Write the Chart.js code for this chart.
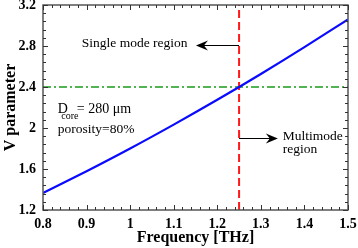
<!DOCTYPE html>
<html>
<head>
<meta charset="utf-8">
<script src="https://cdn.jsdelivr.net/npm/chart.js@4/dist/chart.umd.min.js"></script>
<style>
  html, body { margin: 0; padding: 0; background: #fff; }
  #wrap { width: 358px; height: 248px; }
</style>
</head>
<body>
<div id="wrap"><canvas id="chart" width="358" height="248"></canvas></div>
<script>
"use strict";

// values
var frequency = [0.8, 0.9, 1.0, 1.1, 1.2, 1.3, 1.4, 1.5];
var vParameter = [1.365, 1.578, 1.80, 2.033, 2.275, 2.527, 2.789, 3.06];
var cutoffV = 2.4;
var cutoffFreq = 1.25;
var xTicks = [0.8, 0.9, 1.0, 1.1, 1.2, 1.3, 1.4, 1.5];
var yTicks = [1.2, 1.6, 2.0, 2.4, 2.8, 3.2];

var SERIF = '"Liberation Serif", "Times New Roman", serif';

function fmt(v) {
  return String(Math.round(v * 100) / 100);
}

// inward minor/major ticks on all four sides plus the box
var frameTicks = {
  id: "frameTicks",
  afterDraw: function(chart) {
    var ctx = chart.ctx;
    var a = chart.chartArea;
    var xs = chart.scales.x;
    var ys = chart.scales.y;
    var i, p, len;
    ctx.save();
    ctx.strokeStyle = "#555";
    ctx.lineWidth = 1.5;
    ctx.strokeRect(a.left, a.top, a.right - a.left, a.bottom - a.top);
    ctx.strokeStyle = "#333";
    ctx.lineWidth = 1;
    ctx.beginPath();
    for (i = 0; i <= 35; i++) {
      p = Math.round(xs.getPixelForValue(0.8 + i * 0.02)) + 0.5;
      len = i % 5 === 0 ? 5 : 3;
      ctx.moveTo(p, a.bottom); ctx.lineTo(p, a.bottom - len);
      ctx.moveTo(p, a.top); ctx.lineTo(p, a.top + len);
    }
    for (i = 0; i <= 25; i++) {
      p = Math.round(ys.getPixelForValue(1.2 + i * 0.08)) + 0.5;
      len = i % 5 === 0 ? 5 : 3;
      ctx.moveTo(a.left, p); ctx.lineTo(a.left + len, p);
      ctx.moveTo(a.right, p); ctx.lineTo(a.right - len, p);
    }
    ctx.stroke();
    ctx.restore();
  }
};

function arrow(ctx, x1, y, x2) {
  var dir = x2 > x1 ? 1 : -1;
  ctx.beginPath();
  ctx.moveTo(x1, y);
  ctx.lineTo(x2 - dir * 6, y);
  ctx.stroke();
  ctx.beginPath();
  ctx.moveTo(x2, y);
  ctx.lineTo(x2 - dir * 12, y - 5);
  ctx.lineTo(x2 - dir * 8, y);
  ctx.lineTo(x2 - dir * 12, y + 5);
  ctx.closePath();
  ctx.fill();
}

var notes = {
  id: "notes",
  afterDraw: function(chart) {
    var ctx = chart.ctx;
    var xs = chart.scales.x;
    var ys = chart.scales.y;
    function X(v) { return xs.getPixelForValue(v); }
    function Y(v) { return ys.getPixelForValue(v); }
    ctx.save();
    ctx.fillStyle = "#000";
    ctx.strokeStyle = "#000";
    ctx.lineWidth = 1;
    ctx.textBaseline = "alphabetic";
    ctx.textAlign = "left";
    ctx.font = "13.5px " + SERIF;
    ctx.fillText("Single mode region", X(0.889), Y(2.79));
    ctx.fillText("Multimode", X(1.35), Y(1.883));
    ctx.fillText("region", X(1.35), Y(1.753));
    ctx.fillText("porosity=80%", X(0.834), Y(1.951));
    ctx.font = "14px " + SERIF;
    ctx.fillText("D", X(0.834), Y(2.146));
    ctx.fillText("= 280 \u03bcm", X(0.8775), Y(2.146));
    ctx.font = "10px " + SERIF;
    ctx.fillText("core", X(0.842), Y(2.09));
    arrow(ctx, X(cutoffFreq), Math.round(Y(2.81)) + 0.5, X(1.151));
    arrow(ctx, X(cutoffFreq), Math.round(Y(1.902)) + 0.5, X(1.339));
    ctx.restore();
  }
};

new Chart(document.getElementById("chart"), {
  type: "line",
  data: {
    datasets: [{
      data: frequency.map(function(f, i) { return { x: f, y: vParameter[i] }; }),
      borderColor: "#0a0aff",
      borderWidth: 2.2,
      pointRadius: 0,
      tension: 0.4,
      cubicInterpolationMode: "monotone",
      fill: false
    }, {
      data: [{ x: xTicks[0], y: cutoffV }, { x: xTicks[xTicks.length - 1], y: cutoffV }],
      borderColor: "#1a9a1a",
      borderWidth: 1.5,
      borderDash: [8, 3, 2, 3],
      pointRadius: 0,
      fill: false
    }, {
      data: [{ x: cutoffFreq, y: yTicks[0] }, { x: cutoffFreq, y: yTicks[yTicks.length - 1] }],
      borderColor: "#ff1a1a",
      borderWidth: 2,
      borderDash: [8, 4],
      pointRadius: 0,
      fill: false
    }]
  },
  options: {
    responsive: false,
    animation: false,
    layout: { padding: { top: 5, right: 10, left: 0, bottom: 0 } },
    plugins: { legend: { display: false }, tooltip: { enabled: false } },
    scales: {
      x: {
        type: "linear",
        min: 0.8,
        max: 1.5,
        grid: { display: false, drawTicks: false },
        border: { display: false },
        afterBuildTicks: function(scale) {
          scale.ticks = xTicks.map(function(v) { return { value: v }; });
        },
        afterFit: function(scale) {
          scale.height = 38;
          scale.paddingLeft = 0;
          scale.paddingRight = 0;
        },
        ticks: {
          padding: 6,
          color: "#000",
          maxRotation: 0,
          font: { family: SERIF, size: 14, weight: "bold" },
          callback: fmt
        },
        title: {
          display: true,
          text: "Frequency [THz]",
          color: "#000",
          padding: { top: 0, bottom: 1 },
          font: { family: SERIF, size: 16, weight: "bold" }
        }
      },
      y: {
        type: "linear",
        min: 1.2,
        max: 3.2,
        grid: { display: false, drawTicks: false },
        border: { display: false },
        afterBuildTicks: function(scale) {
          scale.ticks = yTicks.map(function(v) { return { value: v }; });
        },
        afterFit: function(scale) {
          scale.width = 43;
          scale.paddingTop = 0;
          scale.paddingBottom = 0;
        },
        ticks: {
          padding: 7,
          color: "#000",
          font: { family: SERIF, size: 14, weight: "bold" },
          callback: fmt
        },
        title: {
          display: true,
          text: "V parameter",
          color: "#000",
          padding: { top: 1, bottom: 0 },
          font: { family: SERIF, size: 16, weight: "bold" }
        }
      }
    }
  },
  plugins: [frameTicks, notes]
});
</script>
</body>
</html>
